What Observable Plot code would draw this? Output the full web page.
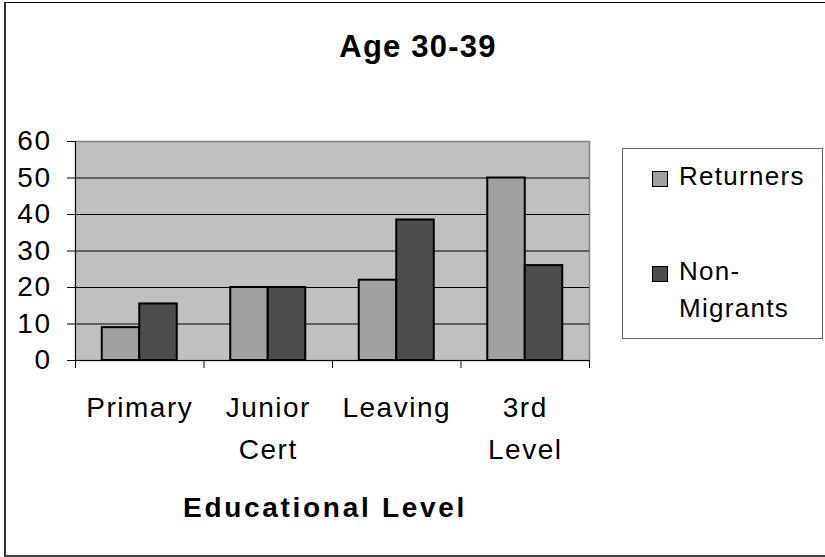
<!DOCTYPE html>
<html>
<head>
<meta charset="utf-8">
<script src="https://cdn.jsdelivr.net/npm/d3@7"></script>
<script src="https://cdn.jsdelivr.net/npm/@observablehq/plot@0.6"></script>
<style>
  body { margin: 0; background: #fff; }
  #wrap { position: relative; width: 825px; height: 557px; overflow: hidden; font-family: "Liberation Sans", Arial, sans-serif; color: #000; }
  #frame { position: absolute; left: 4px; top: 2px; width: 900px; height: 555px; box-sizing: border-box;
           border-top: 1px solid #000; border-left: 2px solid #333; border-bottom: 2px solid #444; }
  #chart { position: absolute; left: 0; top: 0; }
  #title { position: absolute; left: 118px; top: 31px; width: 600px; text-align: center; font-weight: bold;
           font-size: 31px; line-height: 31px; letter-spacing: 1.2px; white-space: nowrap; }
  #xlabel { position: absolute; left: 25px; top: 494px; width: 600px; text-align: center; font-weight: bold;
            font-size: 28px; line-height: 28px; letter-spacing: 2.7px; white-space: nowrap; }
  #legend { position: absolute; left: 622px; top: 148px; width: 201px; height: 191px; box-sizing: border-box;
            border: 1px solid #666; background: #fff; }
  .sw { position: absolute; width: 16px; height: 16px; box-sizing: border-box; border: 1px solid #000; }
  .lt { position: absolute; font-size: 26px; letter-spacing: 1.3px; white-space: nowrap; }
  #chart svg text { letter-spacing: 1.5px; }
</style>
</head>
<body>
<div id="wrap">
  <div id="frame"></div>
  <div id="chart"></div>
  <div id="title"></div>
  <div id="xlabel"></div>
  <div id="legend"></div>
</div>
<script>
// ---- data ----
const chartTitle = "Age 30-39";
const xTitle = "Educational Level";
const categories = ["Primary", "Junior Cert", "Leaving", "3rd Level"];
const categoryLabels = ["Primary", "Junior\nCert", "Leaving", "3rd\nLevel"];
const seriesNames = ["Returners", "Non-Migrants"];
const seriesLegendLabels = ["Returners", "Non-\nMigrants"];
const returners = [9, 20, 22, 50];
const nonMigrants = [15.5, 20, 38.5, 26];
const yTicks = [0, 10, 20, 30, 40, 50, 60];
const gridTicks = [10, 20, 30, 40, 50];
const seriesColors = ["#a0a0a0", "#4d4d4d"];

const seriesValues = [returners, nonMigrants];
const rows = seriesValues.map((vals, s) =>
  vals.map((v, i) => ({category: categories[i], series: seriesNames[s], value: v, i}))
);

const plot = Plot.plot({
  width: 825,
  height: 557,
  marginLeft: 75,
  marginRight: 236,
  marginTop: 141,
  marginBottom: 197,
  style: {fontFamily: "'Liberation Sans', Arial, sans-serif", fontSize: "28px", background: "transparent", color: "#000", overflow: "visible"},
  x: {domain: [0, categories.length]},
  y: {domain: [0, 60]},
  marks: [
    Plot.frame({fill: "#c0c0c0", stroke: "#808080", strokeWidth: 1.5}),
    Plot.gridY(gridTicks, {stroke: "#000", strokeOpacity: 1, strokeWidth: 1}),
    Plot.rectY(rows[0], {x1: "i", x2: d => d.i + 1, y: "value", fill: seriesColors[0], stroke: "#000", strokeWidth: 2, insetLeft: 26.75, insetRight: 64.25}),
    Plot.rectY(rows[1], {x1: "i", x2: d => d.i + 1, y: "value", fill: seriesColors[1], stroke: "#000", strokeWidth: 2, insetLeft: 64.25, insetRight: 26.75}),
    Plot.ruleX([0], {stroke: "#000", strokeWidth: 1}),
    Plot.ruleY([0], {stroke: "#000", strokeWidth: 1}),
    Plot.axisY({ticks: yTicks, tickSize: 8, tickPadding: 16, tickFormat: d => String(d), label: null, stroke: "#000"}),
    Plot.axisX({ticks: d3.range(categories.length + 1), tickSize: 8, tickFormat: () => "", label: null, stroke: "#000"}),
    Plot.axisX({ticks: categories.map((c, i) => i + 0.5), tickSize: 0, tickPadding: 27, lineHeight: 1.5,
                tickFormat: d => categoryLabels[Math.floor(d)], label: null})
  ]
});
document.getElementById("chart").appendChild(plot);

document.getElementById("title").textContent = chartTitle;
document.getElementById("xlabel").textContent = xTitle;

// legend
const wrap = document.getElementById("wrap");
const legendLayout = [
  {swTop: 171, textTop: 163},
  {swTop: 266, textTop: 253}
];
seriesNames.forEach((name, s) => {
  const sw = document.createElement("div");
  sw.className = "sw";
  sw.style.left = "652px";
  sw.style.top = legendLayout[s].swTop + "px";
  sw.style.background = seriesColors[s];
  wrap.appendChild(sw);
  const t = document.createElement("div");
  t.className = "lt";
  t.style.left = "679px";
  t.style.top = legendLayout[s].textTop + "px";
  t.style.lineHeight = s === 0 ? "26px" : "37px";
  t.style.whiteSpace = "pre";
  t.textContent = seriesLegendLabels[s];
  wrap.appendChild(t);
});
</script>
</body>
</html>
